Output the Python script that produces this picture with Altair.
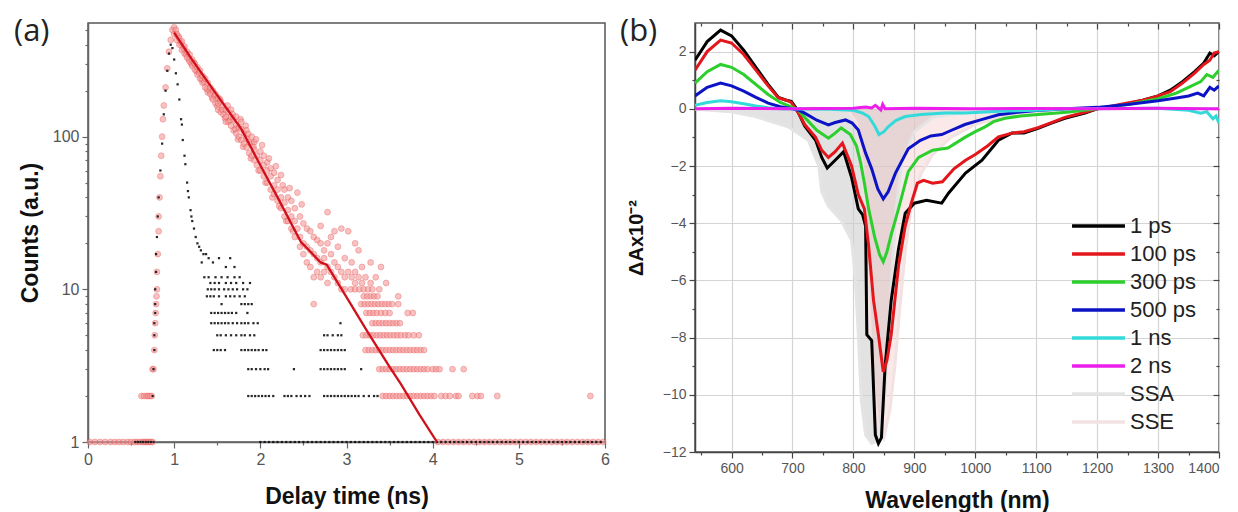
import altair as alt
import pandas as pd

# ============ Panel (a): fluorescence decay (TCSPC) ============
RED_AT_1 = [0.02, 0.08, 0.14, 0.2, 0.26, 0.31, 0.36, 0.41, 0.46, 0.5, 0.54, 0.57, 0.6, 0.63, 0.65, 0.67,
            0.69, 0.71, 0.73, 0.75, 4.06, 4.12, 4.18, 4.24, 4.3, 4.36, 4.42, 4.48, 4.54, 4.6, 4.66, 4.72,
            4.78, 4.84, 4.9, 4.96, 5.02, 5.08, 5.14, 5.2, 5.26, 5.32, 5.38, 5.44, 5.5, 5.56, 5.62, 5.68,
            5.74, 5.8, 5.86, 5.92, 5.98]
RED_AT_2 = [0.62, 0.65, 0.68, 0.70, 0.72, 0.74, 3.42, 3.46, 3.5, 3.54, 3.58, 3.62, 3.66, 3.7, 3.74, 3.78,
            3.82, 3.86, 3.9, 3.94, 3.98, 4.02, 4.1, 4.15, 4.2, 4.27, 4.3, 4.46, 4.52, 4.56, 4.75, 5.83]
RED_AT_3 = [0.75, 0.76, 3.38, 3.42, 3.46, 3.5, 3.54, 3.58, 3.62, 3.66, 3.7, 3.74, 3.78, 3.82, 3.86, 3.9,
            3.94, 4.0, 4.04, 4.08, 4.23, 4.36]
RED_AT_4 = [0.77, 3.22, 3.26, 3.3, 3.34, 3.38, 3.42, 3.46, 3.5, 3.54, 3.58, 3.62, 3.66, 3.7, 3.74, 3.78,
            3.82, 3.86, 3.9]
RED_AT_5 = [0.775, 3.19, 3.23, 3.27, 3.31, 3.35, 3.39, 3.43, 3.47, 3.51, 3.55, 3.59, 3.63, 3.68, 3.72, 3.78, 3.84]
RED_AT_6 = [0.78, 3.3, 3.34, 3.38, 3.42, 3.46, 3.5, 3.54, 3.58, 3.62]
RED_AT_7 = [0.785, 3.23, 3.27, 3.31, 3.35, 3.4, 3.45, 3.5, 3.71, 3.77]
RED_AT_8 = [0.79, 2.62, 3.17, 3.21, 3.25, 3.29, 3.33, 3.37, 3.41, 3.45, 3.49, 3.53, 3.6]
RED_AT_9 = [0.795, 3.2, 3.24, 3.28, 3.32, 3.36, 3.6]
RED_AT_10 = [0.8, 3.05, 3.1, 3.15, 3.2, 3.25, 3.3, 3.38]
RED_RISE = [(0.80, 13), (0.81, 17), (0.82, 24), (0.82, 30), (0.83, 40), (0.84, 55), (0.85, 75), (0.86, 100),
            (0.87, 130), (0.88, 160), (0.90, 210), (0.92, 280), (0.94, 360), (0.96, 430), (0.98, 500)]
RED_DECAY = [(1.00, 520), (1.00, 470), (1.02, 500), (1.03, 470), (1.03, 430), (1.05, 455), (1.06, 440),
             (1.06, 400), (1.08, 410), (1.09, 420), (1.09, 370), (1.11, 380), (1.12, 390), (1.12, 350),
             (1.14, 345), (1.15, 360), (1.15, 330), (1.17, 320), (1.18, 345), (1.18, 310), (1.20, 300),
             (1.21, 320), (1.21, 290), (1.23, 305), (1.24, 300), (1.24, 275), (1.26, 268), (1.27, 285),
             (1.27, 255), (1.29, 262), (1.30, 270), (1.30, 240), (1.32, 236), (1.33, 250), (1.33, 225),
             (1.35, 228), (1.36, 240), (1.36, 210), (1.38, 205), (1.39, 225), (1.39, 195), (1.41, 200),
             (1.42, 210), (1.42, 190), (1.44, 180), (1.45, 200), (1.45, 175), (1.47, 185), (1.48, 190),
             (1.48, 165), (1.50, 158), (1.51, 180), (1.51, 150), (1.51, 165), (1.53, 176), (1.54, 170),
             (1.54, 145), (1.56, 150), (1.57, 160), (1.57, 140), (1.59, 132), (1.60, 150), (1.60, 135),
             (1.60, 125), (1.62, 160), (1.63, 145), (1.63, 125), (1.65, 128), (1.66, 135), (1.66, 118),
             (1.66, 150), (1.68, 140), (1.69, 130), (1.69, 110), (1.71, 112), (1.72, 120), (1.72, 105),
             (1.72, 135), (1.74, 96), (1.75, 115), (1.75, 100), (1.77, 130), (1.78, 112), (1.78, 95),
             (1.78, 125), (1.80, 86), (1.81, 105), (1.81, 90), (1.83, 118), (1.84, 98), (1.84, 85),
             (1.84, 110), (1.86, 104), (1.87, 92), (1.87, 78), (1.89, 72), (1.90, 90), (1.90, 75),
             (1.90, 100), (1.92, 86), (1.93, 82), (1.93, 70), (1.93, 92), (1.95, 96), (1.96, 75),
             (1.96, 65), (1.98, 60), (2.00, 70), (2.00, 60), (2.00, 80), (2.02, 88), (2.04, 65),
             (2.04, 55), (2.04, 75), (2.06, 50), (2.08, 60), (2.08, 50), (2.08, 68), (2.10, 72),
             (2.12, 55), (2.12, 45), (2.12, 62), (2.14, 40), (2.16, 48), (2.16, 42), (2.16, 58),
             (2.18, 64), (2.20, 45), (2.20, 38), (2.20, 52), (2.22, 35), (2.24, 40), (2.24, 34),
             (2.24, 56), (2.26, 48), (2.28, 37), (2.28, 30), (2.28, 45), (2.30, 28), (2.32, 33),
             (2.32, 28), (2.32, 40), (2.34, 46), (2.36, 30), (2.36, 25), (2.36, 38), (2.38, 24),
             (2.40, 28), (2.40, 22), (2.40, 34), (2.43, 25), (2.43, 43), (2.46, 22), (2.46, 19),
             (2.46, 30), (2.48, 36), (2.50, 20), (2.50, 17), (2.50, 27), (2.54, 19), (2.54, 15),
             (2.54, 25), (2.58, 18), (2.58, 14), (2.58, 24), (2.62, 17), (2.62, 12), (2.62, 22),
             (2.66, 16), (2.66, 13), (2.66, 21), (2.70, 15), (2.70, 12), (2.70, 20), (2.70, 26),
             (2.74, 16), (2.74, 13), (2.74, 18), (2.78, 14), (2.78, 32), (2.78, 20), (2.78, 11),
             (2.82, 13), (2.82, 17), (2.82, 22), (2.86, 12), (2.86, 24), (2.86, 15), (2.90, 11),
             (2.90, 14), (2.90, 19), (2.94, 10), (2.94, 25), (2.94, 13), (2.98, 10), (2.98, 16),
             (2.98, 12), (3.02, 24), (3.02, 13), (3.06, 12), (3.06, 15), (3.10, 20), (3.10, 11),
             (3.10, 13), (3.14, 18), (3.14, 12), (3.18, 11), (3.18, 14), (3.22, 12), (3.28, 15),
             (3.28, 11), (3.34, 12), (3.40, 14), (3.46, 11)]

BLACK_AT_1 = [0.55, 0.58, 0.61, 0.64, 0.67, 0.7, 0.73, 0.76, 2.0, 2.05, 2.1, 2.15, 2.2, 2.25, 2.3, 2.35,
              2.4, 2.45, 2.5, 2.55, 2.6, 2.65, 2.7, 2.75, 2.8, 2.85, 2.9, 2.95, 3.0, 3.05, 3.1, 3.15, 3.2,
              3.25, 3.3, 3.35, 3.4, 3.45, 3.5, 3.55, 3.6, 3.65, 3.7, 3.75, 3.8, 3.85, 3.9, 3.95, 4.0,
              4.05, 4.1, 4.15, 4.2, 4.25, 4.3, 4.35, 4.4, 4.45, 4.5, 4.55, 4.6, 4.65, 4.7, 4.75, 4.8,
              4.85, 4.9, 4.95, 5.0, 5.05, 5.1, 5.15, 5.2, 5.25, 5.3, 5.35, 5.4, 5.45, 5.5, 5.55, 5.6,
              5.65, 5.7, 5.75, 5.8, 5.85, 5.9, 5.95]
BLACK_AT_2 = [0.75, 1.86, 1.9, 1.94, 1.98, 2.02, 2.06, 2.1, 2.15, 2.28, 2.32, 2.36, 2.42, 2.47, 2.52, 2.57,
              2.74, 2.78, 2.82, 2.86, 2.9, 2.94, 2.98, 3.02, 3.06, 3.1, 3.14, 3.2, 3.26, 3.32, 3.36]
BLACK_AT_3 = [0.76, 1.86, 1.9, 1.95, 2.0, 2.05, 2.09, 2.39, 2.7, 2.74, 2.78, 2.82, 2.86, 2.9, 2.94, 2.98, 3.17]
BLACK_AT_4 = [0.77, 1.46, 1.5, 1.54, 1.59, 1.78, 1.82, 1.86, 1.9, 1.94, 1.98, 2.03, 2.07, 2.7, 2.74, 2.78,
              2.82, 2.86, 2.9, 2.94, 2.98]
BLACK_AT_5 = [0.77, 1.5, 1.54, 1.6, 1.66, 1.72, 1.78, 1.82, 1.88, 1.93, 2.74, 2.78, 2.84, 2.9, 2.94]
BLACK_AT_6 = [0.77, 1.43, 1.47, 1.51, 1.55, 1.59, 1.63, 1.68, 1.73, 1.78, 1.82, 1.86, 1.92, 1.97, 2.93]
BLACK_AT_7 = [0.78, 1.43, 1.47, 1.51, 1.55, 1.59, 1.63, 1.67, 1.72, 1.85]
BLACK_AT_8 = [0.78, 1.55, 1.78, 1.82, 1.86, 1.9]
BLACK_AT_9 = [1.38, 1.42, 1.46, 1.52, 1.6, 1.65, 1.7, 1.76, 1.82]
BLACK_AT_10 = [0.78, 1.39, 1.43, 1.47, 1.52, 1.58, 1.63, 1.68, 1.73, 1.8, 1.85]
BLACK_AT_11 = [1.42, 1.47, 1.52, 1.6, 1.66, 1.72, 1.8, 1.88]
BLACK_AT_12 = [1.35, 1.4, 1.48, 1.55, 1.62, 1.7, 1.76]
BLACK_PEAK = [(0.79, 13), (0.79, 17), (0.80, 22), (0.81, 30), (0.82, 40), (0.84, 60), (0.86, 90), (0.88, 140),
              (0.90, 200), (0.92, 270), (0.94, 350), (0.96, 400), (0.98, 380), (1.00, 320), (1.02, 260),
              (1.04, 220), (1.06, 175), (1.08, 130), (1.09, 120), (1.10, 95), (1.12, 75), (1.13, 66),
              (1.15, 50), (1.16, 44), (1.17, 40), (1.19, 33), (1.20, 30), (1.21, 28), (1.23, 25), (1.25, 22),
              (1.27, 20), (1.29, 19), (1.31, 18), (1.32, 15), (1.34, 17), (1.37, 17), (1.40, 16), (1.45, 15),
              (1.52, 16), (1.60, 14), (1.65, 16), (1.70, 14)]

FIT_T = [1.0, 1.2, 1.45, 1.78, 2.0, 2.2, 2.47, 2.7, 2.77, 3.0, 3.25, 3.5, 3.63, 3.85, 4.05]
FIT_C = [480, 324, 204, 112, 65, 40, 20.5, 15, 14.5, 8.9, 5.2, 3.1, 2.4, 1.5, 1.0]

XA_TICKS = [0, 0.5, 1, 1.5, 2, 2.5, 3, 3.5, 4, 4.5, 5, 5.5, 6]
YA_TICKS = [1, 2, 3, 4, 5, 6, 7, 8, 9, 10, 20, 30, 40, 50, 60, 70, 80, 90, 100, 200, 300, 400, 500]

# ============ Panel (b): transient absorption spectra ============
W_1PS = [540, 560, 582, 600, 620, 640, 660, 677, 690, 698, 705, 710, 720, 738, 748, 757, 770, 784, 797, 808,
         815, 820, 822, 830, 836, 841, 846, 852, 862, 874, 885, 900, 920, 945, 956, 984, 1011, 1038, 1060,
         1080, 1103, 1125, 1147, 1180, 1200, 1225, 1250, 1275, 1300, 1320, 1340, 1360, 1375, 1385, 1392, 1400]
A_1PS = [1.70, 2.35, 2.75, 2.55, 2.05, 1.45, 0.85, 0.40, 0.30, 0.26, 0.05, -0.15, -0.6, -1.1, -1.7, -2.07,
         -1.8, -1.5, -2.4, -3.5, -3.7, -4.1, -7.9, -8.1, -11.4, -11.7, -11.5, -9.0, -6.7, -4.9, -3.65, -3.3,
         -3.2, -3.3, -2.95, -2.25, -1.8, -1.1, -0.85, -0.85, -0.68, -0.5, -0.33, -0.15, 0.0, 0.08, 0.18,
         0.3, 0.45, 0.65, 0.95, 1.3, 1.6, 1.95, 1.85, 2.0]
W_100PS = [540, 560, 582, 600, 620, 640, 660, 677, 690, 698, 705, 710, 720, 738, 748, 759, 770, 782, 797, 808,
           818, 825, 833, 841, 849, 855, 862, 874, 885, 895, 905, 915, 930, 946, 965, 984, 1000, 1020, 1038,
           1060, 1080, 1103, 1125, 1147, 1180, 1200, 1225, 1250, 1275, 1300, 1320, 1340, 1360, 1375, 1385,
           1392, 1400]
A_100PS = [1.35, 2.0, 2.4, 2.3, 1.9, 1.35, 0.8, 0.38, 0.3, 0.22, 0.0, -0.15, -0.55, -1.0, -1.45, -1.7, -1.5,
           -1.2, -2.0, -3.0, -3.5, -4.8, -6.7, -7.9, -9.2, -8.8, -7.9, -5.5, -4.1, -3.3, -2.6, -2.5, -2.6,
           -2.55, -2.1, -1.8, -1.6, -1.3, -0.98, -0.85, -0.8, -0.66, -0.48, -0.3, -0.12, 0.0, 0.1, 0.2, 0.3,
           0.45, 0.6, 0.9, 1.25, 1.55, 1.7, 1.95, 2.0]
W_300PS = [540, 560, 582, 600, 620, 640, 660, 680, 700, 710, 720, 740, 759, 770, 780, 795, 805, 812, 818, 825,
           835, 843, 849, 855, 862, 874, 890, 907, 930, 955, 983, 1000, 1016, 1030, 1049, 1075, 1103, 1150,
           1200, 1250, 1300, 1330, 1350, 1370, 1380, 1390, 1400]
A_300PS = [0.9, 1.3, 1.55, 1.45, 1.2, 0.85, 0.5, 0.22, 0.05, -0.05, -0.3, -0.75, -1.03, -0.85, -0.67, -0.9,
           -1.3, -1.9, -2.6, -3.5, -4.5, -5.1, -5.35, -5.0, -4.4, -3.5, -2.2, -1.7, -1.45, -1.37, -1.0, -0.8,
           -0.63, -0.45, -0.33, -0.25, -0.2, -0.12, 0.0, 0.15, 0.35, 0.55, 0.75, 0.95, 1.2, 1.1, 1.35]
W_500PS = [540, 560, 582, 600, 620, 640, 660, 680, 700, 710, 720, 740, 759, 770, 787, 798, 808, 820, 830, 840,
           849, 857, 869, 890, 910, 927, 945, 961, 983, 1010, 1038, 1070, 1100, 1150, 1200, 1250, 1300, 1330,
           1350, 1365, 1375, 1385, 1392, 1400]
A_500PS = [0.45, 0.75, 0.9, 0.8, 0.62, 0.4, 0.2, 0.07, 0.0, -0.05, -0.15, -0.4, -0.56, -0.48, -0.39, -0.5,
           -0.74, -1.55, -2.1, -2.8, -3.15, -2.9, -2.25, -1.4, -1.1, -0.95, -0.9, -0.75, -0.55, -0.38, -0.21,
           -0.12, -0.06, 0.0, 0.05, 0.15, 0.28, 0.38, 0.45, 0.55, 0.45, 0.75, 0.65, 0.8]
W_1NS = [540, 560, 582, 600, 620, 640, 660, 680, 760, 800, 815, 825, 835, 842, 850, 857, 870, 885, 911, 950,
         983, 1050, 1100, 1150, 1300, 1350, 1370, 1380, 1390, 1395, 1400]
A_1NS = [0.12, 0.22, 0.28, 0.25, 0.18, 0.1, 0.04, 0.0, -0.02, -0.05, -0.15, -0.27, -0.6, -0.9, -0.8, -0.63,
         -0.4, -0.27, -0.2, -0.15, -0.15, -0.08, -0.05, 0.0, 0.02, -0.05, -0.15, -0.1, -0.35, -0.25, -0.5]
W_2NS = [540, 600, 700, 800, 820, 830, 836, 840, 845, 848, 852, 900, 1000, 1100, 1200, 1300, 1380, 1400]
A_2NS = [0.0, 0.02, 0.0, 0.02, 0.06, 0.03, 0.12, 0.05, -0.04, 0.15, 0.0, 0.02, 0.0, 0.01, 0.0, 0.02, 0.0, 0.0]
W_SSA = [540, 600, 639, 693, 726, 743, 748, 759, 780, 797, 803, 808, 813, 820, 830, 840, 850, 860, 870, 880,
         900, 930, 1000, 1100, 1400]
A_SSA = [-0.02, -0.1, -0.27, -0.63, -1.1, -2.0, -2.9, -3.4, -3.9, -4.6, -5.9, -7.9, -10.2, -11.4, -11.7,
         -11.6, -10.5, -7.0, -3.5, -1.8, -0.8, -0.3, -0.08, 0.0, 0.0]
W_SSE = [790, 805, 815, 822, 830, 840, 850, 860, 868, 876, 885, 895, 910, 930, 960, 1000, 1050, 1100, 1150]
A_SSE = [0.0, -0.5, -2.0, -5.0, -9.0, -11.0, -11.5, -10.5, -9.0, -7.0, -5.0, -3.4, -2.3, -1.6, -1.0, -0.55,
         -0.25, -0.1, 0.0]

SERIES = ["1 ps", "100 ps", "300 ps", "500 ps", "1 ns", "2 ns", "SSA", "SSE"]
COLORS = ["#000000", "#e3161c", "#2ccf2c", "#0c12c6", "#33dada", "#ec1eec", "#e4e4e4", "#f2e2e2"]
XB_TICKS = [550, 600, 650, 700, 750, 800, 850, 900, 950, 1000, 1050, 1100, 1150, 1200, 1250, 1300, 1350, 1400]
YB_TICKS = [-12, -11, -10, -9, -8, -7, -6, -5, -4, -3, -2, -1, 0, 1, 2]

# ---------------- build tables ----------------
red_rows = []
for lvl, ts in [(1, RED_AT_1), (2, RED_AT_2), (3, RED_AT_3), (4, RED_AT_4), (5, RED_AT_5), (6, RED_AT_6),
                (7, RED_AT_7), (8, RED_AT_8), (9, RED_AT_9), (10, RED_AT_10)]:
    red_rows += [(t, lvl) for t in ts]
red_rows += RED_RISE + RED_DECAY
red_df = pd.DataFrame(red_rows, columns=["t", "c"])

black_rows = []
for lvl, ts in [(1, BLACK_AT_1), (2, BLACK_AT_2), (3, BLACK_AT_3), (4, BLACK_AT_4), (5, BLACK_AT_5),
                (6, BLACK_AT_6), (7, BLACK_AT_7), (8, BLACK_AT_8), (9, BLACK_AT_9), (10, BLACK_AT_10),
                (11, BLACK_AT_11), (12, BLACK_AT_12)]:
    black_rows += [(t, lvl) for t in ts]
black_rows += BLACK_PEAK
black_df = pd.DataFrame(black_rows, columns=["t", "c"])
fit_df = pd.DataFrame({"t": FIT_T, "c": FIT_C})

LABEL_FONT = "Liberation Sans"

xa = alt.X("t:Q", scale=alt.Scale(domain=[0, 6], nice=False, zero=False),
           axis=alt.Axis(values=XA_TICKS, title="Delay time (ns)",
                         labelExpr="datum.value % 1 === 0 ? format(datum.value, 'd') : ''",
                         tickSize=alt.ExprRef("datum.value % 1 === 0 ? 6 : 3"),
                         labelFontSize=16, labelColor="#555", labelPadding=3, titlePadding=18,
                         domainColor="#666", tickColor="#666", domainWidth=1.5, tickWidth=1.2,
                         grid=False, labelFlush=False))
ya = alt.Y("c:Q", scale=alt.Scale(type="log", domain=[1, 555], nice=False),
           axis=alt.Axis(values=YA_TICKS, title="Counts (a.u.)",
                         labelExpr="indexof([1, 10, 100], datum.value) >= 0 ? format(datum.value, 'd') : ''",
                         tickSize=alt.ExprRef("indexof([1, 10, 100], datum.value) >= 0 ? 6 : 3"),
                         labelFontSize=16, labelColor="#555", labelPadding=3, titlePadding=10,
                         domainColor="#666", tickColor="#666", domainWidth=1.5, tickWidth=1.2,
                         grid=False, labelFlush=False))

red_pts = alt.Chart(red_df).mark_circle(size=34, color="#f49a9a", stroke="#e84a4a", strokeWidth=0.7,
                                        opacity=0.6, clip=False).encode(x=xa, y=ya)
black_pts = alt.Chart(black_df).mark_square(size=5, color="#111111", opacity=0.9, clip=False).encode(x=xa, y=ya)
fit_line = alt.Chart(fit_df).mark_line(color="#d0101a", strokeWidth=2.3).encode(x=xa, y=ya)
label_a = alt.Chart(pd.DataFrame({"s": ["(a)"]})).mark_text(
    align="left", baseline="middle", font="Open Sans", fontSize=31, color="#222", x=-74, y=9
).encode(text="s:N")

panel_a = alt.layer(red_pts, black_pts, fit_line, label_a).properties(width=517, height=419)

# panel (b)
line_rows = []
for name, ws, vals in [("SSA", W_SSA, A_SSA), ("SSE", W_SSE, A_SSE), ("1 ps", W_1PS, A_1PS),
                       ("100 ps", W_100PS, A_100PS), ("300 ps", W_300PS, A_300PS),
                       ("500 ps", W_500PS, A_500PS), ("1 ns", W_1NS, A_1NS), ("2 ns", W_2NS, A_2NS)]:
    line_rows += [(name, w, v) for w, v in zip(ws, vals)]
lines_df = pd.DataFrame(line_rows, columns=["series", "w", "v"])
ssa_df = pd.DataFrame({"w": W_SSA, "v": A_SSA})
sse_df = pd.DataFrame({"w": W_SSE, "v": A_SSE})

xb_scale = alt.Scale(domain=[540, 1400], nice=False, zero=False)
yb_scale = alt.Scale(domain=[-12, 3], nice=False, zero=False)
xb = alt.X("w:Q", scale=xb_scale,
           axis=alt.Axis(values=XB_TICKS, title="Wavelength (nm)", orient="bottom",
                         labelExpr="datum.value % 100 === 0 ? format(datum.value, 'd') : ''",
                         tickSize=alt.ExprRef("datum.value % 100 === 0 ? 6 : 3"),
                         grid=True, gridColor="#d4d4d4", gridWidth=1.2,
                         gridOpacity=alt.ExprRef("datum.value % 100 === 0 ? 1 : 0"),
                         labelFontSize=14, labelColor="#555", labelPadding=3, titlePadding=14,
                         domainColor="#444", tickColor="#444", domainWidth=1.5, tickWidth=1.2,
                         labelFlush=True))
yb = alt.Y("v:Q", scale=yb_scale,
           axis=alt.Axis(values=YB_TICKS, title="ΔAx10⁻²", orient="left",
                         labelExpr="datum.value % 2 === 0 ? format(datum.value, 'd') : ''",
                         tickSize=alt.ExprRef("datum.value % 2 === 0 ? 6 : 3"),
                         grid=True, gridColor="#d4d4d4", gridWidth=1.2,
                         gridOpacity=alt.ExprRef("datum.value % 2 === 0 ? 1 : 0"),
                         labelFontSize=14, labelColor="#555", labelPadding=3, titlePadding=16,
                         titleFontSize=20,
                         domainColor="#444", tickColor="#444", domainWidth=1.5, tickWidth=1.2,
                         labelFlush=False))

ssa_area = alt.Chart(ssa_df).mark_area(color="#cfcfcf", opacity=0.6).encode(x=xb, y=yb, y2=alt.datum(0))
sse_area = alt.Chart(sse_df).mark_area(color="#f3bcbc", opacity=0.32).encode(x=xb, y=yb, y2=alt.datum(0))
spectra = alt.Chart(lines_df).mark_line(strokeWidth=3, clip=True).encode(
    x=xb, y=yb,
    color=alt.Color("series:N", scale=alt.Scale(domain=SERIES, range=COLORS),
                    legend=alt.Legend(title=None, orient="none", legendX=375, legendY=189,
                                      symbolType="stroke", symbolSize=2800, symbolStrokeWidth=3.5,
                                      labelFontSize=22, labelFont=LABEL_FONT, labelColor="#222",
                                      labelOffset=3, clipHeight=28, rowPadding=0, padding=0,
                                      labelLimit=200)),
)
label_b = alt.Chart(pd.DataFrame({"s": ["(b)"]})).mark_text(
    align="left", baseline="middle", font="Open Sans", fontSize=31, color="#222", x=-75, y=9
).encode(text="s:N")
main_b = alt.layer(ssa_area, sse_area, spectra, label_b)

# mirrored ticks on top and right edges
ghost = alt.Chart(ssa_df).mark_point(opacity=0).encode(
    x=alt.X("w:Q", scale=xb_scale,
            axis=alt.Axis(orient="top", values=XB_TICKS, labels=False, title=None, domain=False, grid=False,
                          tickSize=alt.ExprRef("datum.value % 100 === 0 ? -6 : -3"),
                          tickColor="#444", tickWidth=1.2, minExtent=0, maxExtent=0)),
    y=alt.Y("v:Q", scale=yb_scale,
            axis=alt.Axis(orient="right", values=YB_TICKS, labels=False, title=None, domain=False, grid=False,
                          tickSize=alt.ExprRef("datum.value % 2 === 0 ? -6 : -3"),
                          tickColor="#444", tickWidth=1.2, minExtent=0, maxExtent=0)),
)

panel_b = alt.layer(main_b, ghost).resolve_scale(
    x="independent", y="independent").properties(width=524, height=429)

chart = alt.hconcat(panel_a, panel_b, spacing=8).resolve_scale(color="independent").resolve_legend(
    color="independent").properties(
    padding={"left": 5, "top": 7, "right": 0, "bottom": 0}
).configure_view(stroke="#555", strokeWidth=1.5).configure_axis(
    labelFont=LABEL_FONT, titleFont=LABEL_FONT, titleFontSize=23, titleFontWeight="bold", titleColor="#111"
)

chart.save("out.html", embed_options={"renderer": "svg", "actions": False})
